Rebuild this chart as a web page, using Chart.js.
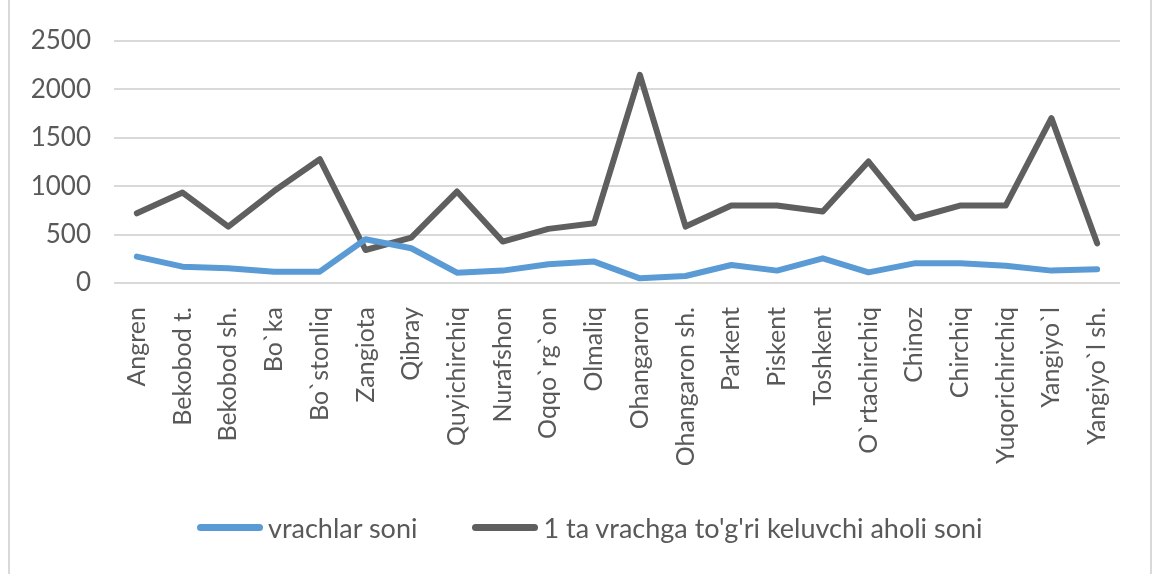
<!DOCTYPE html>
<html>
<head>
<meta charset="utf-8">
<script src="https://cdn.jsdelivr.net/npm/chart.js@4/dist/chart.umd.min.js"></script>
<style>
  html, body { margin: 0; padding: 0; background: #fff; }
  #wrap { position: relative; width: 1154px; height: 574px; }
  #frame { position: absolute; left: 8px; top: 0; width: 1144px; height: 574px;
           border-left: 2px solid #d9d9d9; border-right: 2px solid #d9d9d9; box-sizing: border-box; }
  canvas { position: absolute; left: 0; top: 0; }
  #legend { position: absolute; left: 197px; top: 511px; display: flex; align-items: center;
            gap: 55px; font-family: Lato, "Open Sans", sans-serif; font-size: 27px; color: #595959;
            white-space: nowrap; }
  #legend .item { display: flex; align-items: center; }
  #legend .swatch { display: inline-block; width: 66px; height: 7px; border-radius: 4px; margin-right: 5px; }
</style>
</head>
<body>
<div id="wrap">
  <div id="frame"></div>
  <canvas id="chart" width="1154" height="574"></canvas>
  <div id="legend"></div>
</div>
<script>
// districts of Tashkent region
const districts = [
  "Angren", "Bekobod t.", "Bekobod sh.", "Bo`ka", "Bo`stonliq", "Zangiota",
  "Qibray", "Quyichirchiq", "Nurafshon", "Oqqo`rg`on", "Olmaliq", "Ohangaron",
  "Ohangaron sh.", "Parkent", "Piskent", "Toshkent", "O`rtachirchiq", "Chinoz",
  "Chirchiq", "Yuqorichirchiq", "Yangiyo`l", "Yangiyo`l sh."
];

// number of doctors
const doctors = [
  272, 169, 152, 117, 117, 452, 359, 107, 128, 193, 221,
  48, 72, 186, 128, 255, 110, 203, 203, 179, 128, 141
];

// residents per one doctor
const residentsPerDoctor = [
  720, 934, 583, 950, 1279, 341, 469, 945, 428, 559, 617,
  2151, 583, 800, 800, 738, 1255, 669, 800, 800, 1703, 410
];

const yTicks = [0, 500, 1000, 1500, 2000, 2500];

const textColor = "#595959";
const gridColor = "#d9d9d9";
const fontFamily = "Lato, 'Open Sans', sans-serif";

const ctx = document.getElementById("chart").getContext("2d");
const chart = new Chart(ctx, {
  type: "line",
  data: {
    labels: districts,
    datasets: [
      {
        label: "vrachlar soni",
        data: doctors,
        borderColor: "#5b9bd5",
        backgroundColor: "#5b9bd5",
        borderWidth: 6,
        borderCapStyle: "round",
        borderJoinStyle: "round",
        pointRadius: 0,
        tension: 0,
      },
      {
        label: "1 ta vrachga to'g'ri keluvchi aholi soni",
        data: residentsPerDoctor,
        borderColor: "#5f5f5f",
        backgroundColor: "#5f5f5f",
        borderWidth: 6,
        borderCapStyle: "round",
        borderJoinStyle: "round",
        pointRadius: 0,
        tension: 0,
      },
    ],
  },
  options: {
    responsive: false,
    animation: false,
    layout: { padding: { left: 10, right: 34, top: 41, bottom: 76 } },
    plugins: {
      tooltip: { enabled: false },
      legend: { display: false },
    },
    scales: {
      x: {
        offset: true,
        grid: { display: false, drawTicks: false },
        border: { display: false },
        ticks: {
          color: textColor,
          font: { family: fontFamily, size: 25 },
          minRotation: 90,
          maxRotation: 90,
          padding: 24,
          autoSkip: false,
        },
        afterFit: (axis) => { axis.height = 215; },
      },
      y: {
        min: 0,
        max: 2500,
        afterBuildTicks: (axis) => { axis.ticks = yTicks.map((v) => ({ value: v })); },
        grid: { color: gridColor, lineWidth: 2, drawTicks: false },
        border: { display: false },
        ticks: {
          color: textColor,
          font: { family: fontFamily, size: 26 },
          padding: 23,
          callback: (v) => String(v),
        },
        afterFit: (axis) => { axis.width = 104; },
      },
    },
  },
});

// legend built from the datasets
const legend = document.getElementById("legend");
chart.data.datasets.forEach((ds) => {
  const item = document.createElement("div");
  item.className = "item";
  const swatch = document.createElement("span");
  swatch.className = "swatch";
  swatch.style.background = ds.borderColor;
  const text = document.createElement("span");
  text.textContent = ds.label;
  item.appendChild(swatch);
  item.appendChild(text);
  legend.appendChild(item);
});
</script>
</body>
</html>
